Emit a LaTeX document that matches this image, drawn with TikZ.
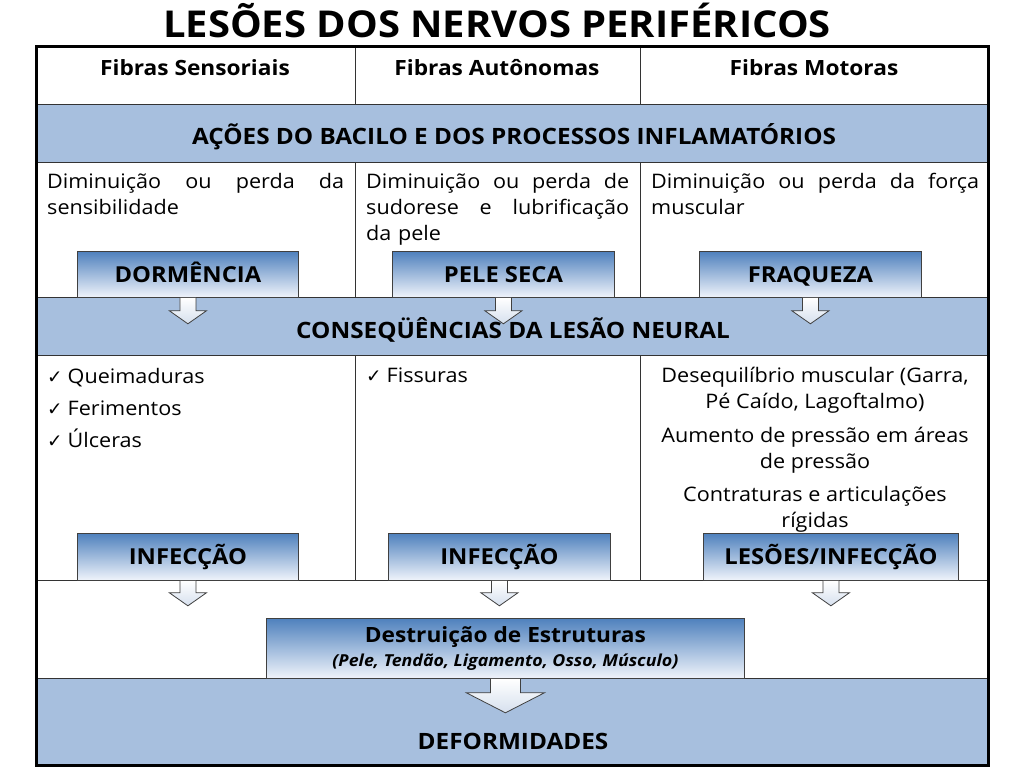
\documentclass[tikz,border=0pt]{standalone}
\usepackage{fontspec}
\setmainfont{Open Sans}[FakeStretch=1.08]
\newfontfamily\checkfont{DejaVu Sans}
\usetikzlibrary{calc}
\definecolor{band}{RGB}{167,191,222}
\definecolor{gtop}{RGB}{79,129,189}
\definecolor{gbot}{RGB}{240,244,251}
\definecolor{arrbot}{RGB}{214,224,238}
\newcommand\ck{{\checkfont\fontsize{18.5}{20}\selectfont ✓}\hspace{5pt}}
\newcommand\jline[2]{\leavevmode\hbox to #1{#2}}
\tikzset{
  gradbox/.style={draw=black!75, line width=0.8pt, top color=gtop, bottom color=gbot,
    inner sep=0pt, anchor=north west, text height=20pt, text depth=4pt,
    font=\bfseries\fontsize{22}{26}\selectfont},
  head/.style={font=\bfseries\fontsize{21}{24}\selectfont},
  bandtext/.style={font=\bfseries\fontsize{22.5}{26}\selectfont},
  body/.style={font=\fontsize{20}{26}\selectfont, inner sep=0pt, anchor=north west, align=left},
  ctext/.style={font=\fontsize{20}{26}\selectfont, inner sep=0pt, align=center},
  gridline/.style={draw=black!80, line width=1pt},
  arrowline/.style={draw=black!75, line width=0.8pt, line join=miter},
}
% block arrow below a named anchor: #1 anchor, #2 shaft half width, #3 head half width, #4 shaft height, #5 total height
\newcommand\blkarrow[5]{%
  \shade[top color=white, bottom color=arrbot]
    ([xshift=-#2pt]#1) -- ([xshift=-#2pt,yshift=-#4pt]#1) -- ([xshift=-#3pt,yshift=-#4pt]#1)
    -- ([yshift=-#5pt]#1) -- ([xshift=#3pt,yshift=-#4pt]#1) -- ([xshift=#2pt,yshift=-#4pt]#1)
    -- ([xshift=#2pt]#1) -- cycle;
  \draw[arrowline]
    ([xshift=-#2pt]#1) -- ([xshift=-#2pt,yshift=-#4pt]#1) -- ([xshift=-#3pt,yshift=-#4pt]#1)
    -- ([yshift=-#5pt]#1) -- ([xshift=#3pt,yshift=-#4pt]#1) -- ([xshift=#2pt,yshift=-#4pt]#1)
    -- ([xshift=#2pt]#1);
}
\begin{document}
\begin{tikzpicture}[x=1pt,y=-1pt]
\useasboundingbox (0,0) rectangle (1024,768);
\fill[white] (0,0) rectangle (1024,768);

% title
\node[font=\bfseries\fontsize{37}{42}\selectfont] (title) at (497,20) {LESÕES DOS NERVOS PERIFÉRICOS};

% bands
\fill[band] (36,104) rectangle (988,162);
\fill[band] (36,297) rectangle (988,355);
\fill[band] (36,678) rectangle (988,765);

% grid lines
\draw[gridline] (36,104) -- (988,104);
\draw[gridline] (36,162) -- (988,162);
\draw[gridline] (36,297) -- (988,297);
\draw[gridline] (36,355) -- (988,355);
\draw[gridline] (36,580) -- (988,580);
\draw[gridline] (36,678) -- (988,678);
\foreach \xx in {355,640} {
  \draw[gridline] (\xx,47) -- (\xx,104);
  \draw[gridline] (\xx,162) -- (\xx,297);
  \draw[gridline] (\xx,355) -- (\xx,580);
}

% header
\node[head] (h1) at (195,68) {Fibras Sensoriais};
\node[head] (h2) at (497,68) {Fibras Autônomas};
\node[head] (h3) at (814,68) {Fibras Motoras};

% band texts
\node[bandtext] (acoes) at (514,137) {AÇÕES DO BACILO E DOS PROCESSOS INFLAMATÓRIOS};
\node[bandtext] (conseq) at (513,330) {CONSEQÜÊNCIAS DA LESÃO NEURAL};

% row 2 texts
\node[body, text width=298pt] (t1) at (47,173)
  {\jline{297pt}{Diminuição\hfill ou\hfill perda\hfill da}\\sensibilidade};
\node[body, text width=264pt] (t2) at (366,173)
  {\jline{263pt}{Diminuição\hfill ou\hfill perda\hfill de}\\\jline{263pt}{sudorese\hfill e\hfill lubrificação}\\da pele};
\node[body, text width=329pt] (t3) at (651,173)
  {\jline{328pt}{Diminuição\hfill ou\hfill perda\hfill da\hfill força}\\muscular};

% row 3 texts
\node[font=\fontsize{20}{32}\selectfont, inner sep=0pt, anchor=north west, align=left] (c1) at (47,368)
  {\ck Queimaduras\\\ck Ferimentos\\\ck Úlceras};
\node[font=\fontsize{20}{32}\selectfont, inner sep=0pt, anchor=north west, align=left] (c2) at (366,368)
  {\ck Fissuras};
\node[ctext] (m1) at (815,390) {Desequilíbrio muscular (Garra,\\Pé Caído, Lagoftalmo)};
\node[ctext] (m2) at (815,450) {Aumento de pressão em áreas\\de pressão};
\node[ctext] (m3) at (815,509) {Contraturas e articulações\\rígidas};

% gradient boxes
\node[gradbox, minimum width=221pt, minimum height=46pt] (dorm) at (77,251) {DORMÊNCIA};
\node[gradbox, minimum width=222pt, minimum height=46pt] (pele) at (392,251) {PELE SECA};
\node[gradbox, minimum width=222pt, minimum height=46pt] (fraq) at (699,251) {FRAQUEZA};
\node[gradbox, minimum width=221pt, minimum height=47pt] (inf1) at (77,533) {INFECÇÃO};
\node[gradbox, minimum width=222pt, minimum height=47pt] (inf2) at (388,533) {INFECÇÃO};
\node[gradbox, minimum width=255pt, minimum height=47pt] (les) at (703,533) {LESÕES/INFECÇÃO};
\node[draw=black!75, line width=0.8pt, top color=gtop, bottom color=gbot, inner sep=0pt,
      anchor=north west, minimum width=478pt, minimum height=60pt, align=center,
      font=\bfseries] (destr) at (266,618)
  {\fontsize{21}{27}\selectfont Destruição de Estruturas\\[5pt]{\fontsize{16.5}{20}\selectfont\itshape (Pele, Tendão, Ligamento, Osso, Músculo)}};

% bottom band text
\node[bandtext] (deform) at (513,741) {DEFORMIDADES};

% arrows
\blkarrow{dorm.south}{8}{18.5}{13}{26}
\blkarrow{pele.south}{8}{18.5}{13}{26}
\blkarrow{fraq.south}{8}{18.5}{13}{26}
\blkarrow{inf1.south}{8}{18.5}{12}{25}
\blkarrow{inf2.south}{8}{18.5}{12}{25}
\blkarrow{les.south}{8}{18.5}{12}{25}
\blkarrow{destr.south}{15}{39}{14}{34}

% outer border
\draw[line width=3pt] (36,47) rectangle (988,765);
\end{tikzpicture}
\end{document}
